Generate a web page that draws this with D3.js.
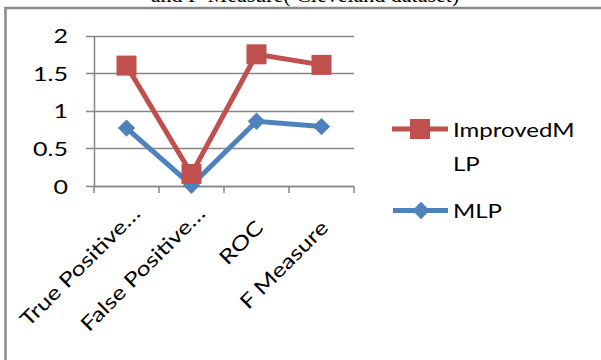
<!DOCTYPE html>
<html><head><meta charset="utf-8">
<script src="https://cdn.jsdelivr.net/npm/d3@7"></script>
<style>body{margin:0;background:#fff}svg{display:block}</style>
</head><body>
<script>
const categories = ["True Positive…", "False Positive…", "ROC", "F Measure"];
const improvedMLP = [1.6, 0.16, 1.75, 1.61];
const mlp = [0.77, 0.01, 0.86, 0.79];
const yTicks = [0, 0.5, 1, 1.5, 2];
const seriesNames = ["ImprovedMLP", "MLP"];
const legendLines = [["ImprovedM", "LP"], ["MLP"]];

const W = 601, H = 360;
const svg = d3.select("body").append("svg").attr("width", W).attr("height", H);
const font = "Lato, 'Open Sans', sans-serif";
const SX = 1.25; // horizontal stretch of the text

// title fragment (cut off at top)
svg.append("text").attr("x", 305).attr("y", 2).attr("text-anchor", "middle")
  .attr("font-family", "'Liberation Serif', serif").attr("font-size", 22)
  .attr("fill", "#000").text("and F-Measure( Cleveland dataset)");

// outer frame
svg.append("rect").attr("x", 5.5).attr("y", 8).attr("width", 640).attr("height", 400)
  .attr("fill", "none").attr("stroke", "#8a8a8a").attr("stroke-width", 2.5);

const x = d3.scaleBand().domain(categories).range([94, 354]);
const y = d3.scaleLinear().domain([0, 2]).range([186, 35.5]);

// gridlines
svg.append("g").selectAll("line").data(yTicks).join("line")
  .attr("x1", 86).attr("x2", 354).attr("y1", d => Math.round(y(d)) + 0.5).attr("y2", d => Math.round(y(d)) + 0.5)
  .attr("stroke", "#868686").attr("stroke-width", 1.5);

// y axis
const yAxis = svg.append("g").attr("transform", "translate(94,0)")
  .call(d3.axisLeft(y).tickValues(yTicks).tickFormat(d => d).tickSize(0));
yAxis.select(".domain").attr("stroke", "#868686").attr("stroke-width", 1.5);
yAxis.selectAll(".tick text").attr("x", 0).attr("dy", "0.36em")
  .attr("transform", `translate(-26,0) scale(${SX},1)`)
  .attr("font-family", font).attr("font-size", 20).attr("fill", "#000");

// x axis
const xAxis = svg.append("g").attr("transform", "translate(0,186)")
  .call(d3.axisBottom(x).tickSize(0));
xAxis.select(".domain").remove();
xAxis.selectAll("text").remove();
svg.append("g").selectAll("line").data(d3.range(categories.length + 1)).join("line")
  .attr("x1", i => 94 + i * x.bandwidth()).attr("x2", i => 94 + i * x.bandwidth())
  .attr("y1", 186).attr("y2", 193).attr("stroke", "#868686").attr("stroke-width", 1.5);
svg.append("line").attr("x1", 94).attr("x2", 354).attr("y1", 186.5).attr("y2", 186.5)
  .attr("stroke", "#868686").attr("stroke-width", 1.5);

svg.append("g").selectAll("text").data(categories).join("text")
  .attr("transform", d => `translate(${x(d) + x.bandwidth() / 2 + 8},${229}) rotate(-45) scale(${SX},1)`)
  .attr("text-anchor", "end")
  .attr("dx", d => d.endsWith("…") ? 12 : 0).attr("dy", d => d.endsWith("…") ? -5 : 0)
  .attr("font-family", font).attr("font-size", 20).attr("fill", "#000").text(d => d);

const cx = (d, i) => x(categories[i]) + x.bandwidth() / 2;
const line = d3.line().x((d, i) => cx(d, i)).y(d => y(d));

const blue = "#4F81BD", red = "#C0504D";
const diamond = d3.symbol().type(d3.symbolSquare).size(150);

// MLP
svg.append("path").datum(mlp).attr("d", line).attr("fill", "none").attr("stroke", blue).attr("stroke-width", 5);
svg.append("g").selectAll("path").data(mlp).join("path")
  .attr("d", diamond).attr("transform", (d, i) => `translate(${cx(d, i)},${y(d)}) rotate(45)`).attr("fill", blue);

// Improved
svg.append("path").datum(improvedMLP).attr("d", line).attr("fill", "none").attr("stroke", red).attr("stroke-width", 5);
svg.append("g").selectAll("rect").data(improvedMLP).join("rect")
  .attr("x", (d, i) => cx(d, i) - 10).attr("y", d => y(d) - 10).attr("width", 20).attr("height", 20).attr("fill", red);

// legend
const lg = svg.append("g");
lg.append("line").attr("x1", 392).attr("x2", 448).attr("y1", 129).attr("y2", 129).attr("stroke", red).attr("stroke-width", 5);
lg.append("rect").attr("x", 410).attr("y", 119).attr("width", 20).attr("height", 20).attr("fill", red);
legendLines[0].forEach((t, k) => {
  lg.append("text").attr("transform", `translate(453,${137 + k * 34}) scale(${SX * 0.96},1)`)
    .attr("font-family", font).attr("font-size", 20).text(t);
});
lg.append("line").attr("x1", 393).attr("x2", 448).attr("y1", 210.5).attr("y2", 210.5).attr("stroke", blue).attr("stroke-width", 5);
lg.append("path").attr("d", diamond).attr("transform", "translate(421,210.5) rotate(45)").attr("fill", blue);
lg.append("text").attr("transform", `translate(453,218) scale(${SX * 0.96},1)`)
  .attr("font-family", font).attr("font-size", 20).text(legendLines[1][0]);
</script>
</body></html>
